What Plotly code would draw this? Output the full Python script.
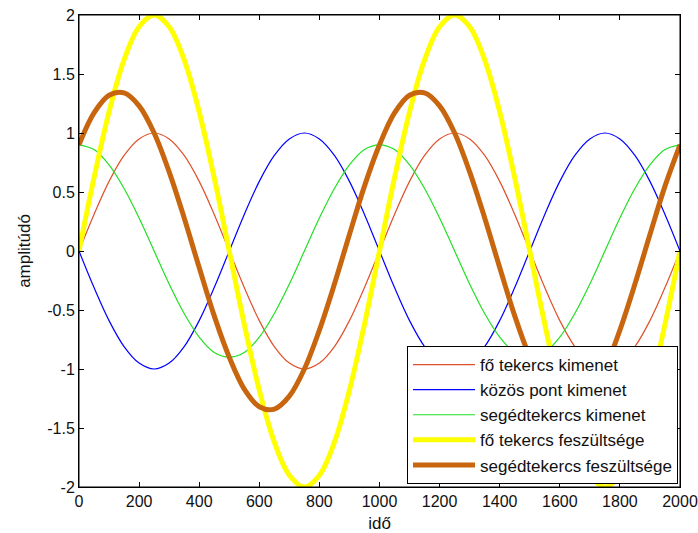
import plotly.graph_objects as go

ido = list(range(0, 2001, 50))

fo_kimenet = [0, 0.31, 0.59, 0.81, 0.95, 1.0, 0.95, 0.81, 0.59, 0.31, 0,
              -0.31, -0.59, -0.81, -0.95, -1.0, -0.95, -0.81, -0.59, -0.31, 0,
              0.31, 0.59, 0.81, 0.95, 1.0, 0.95, 0.81, 0.59, 0.31, 0,
              -0.31, -0.59, -0.81, -0.95, -1.0, -0.95, -0.81, -0.59, -0.31, 0]
kozos_kimenet = [0, -0.31, -0.59, -0.81, -0.95, -1.0, -0.95, -0.81, -0.59, -0.31, 0,
                 0.31, 0.59, 0.81, 0.95, 1.0, 0.95, 0.81, 0.59, 0.31, 0,
                 -0.31, -0.59, -0.81, -0.95, -1.0, -0.95, -0.81, -0.59, -0.31, 0,
                 0.31, 0.59, 0.81, 0.95, 1.0, 0.95, 0.81, 0.59, 0.31, 0]
seged_kimenet = [0.9, 0.86, 0.73, 0.53, 0.28, 0, -0.28, -0.53, -0.73, -0.86, -0.9,
                 -0.86, -0.73, -0.53, -0.28, 0, 0.28, 0.53, 0.73, 0.86, 0.9,
                 0.86, 0.73, 0.53, 0.28, 0, -0.28, -0.53, -0.73, -0.86, -0.9,
                 -0.86, -0.73, -0.53, -0.28, 0, 0.28, 0.53, 0.73, 0.86, 0.9]
fo_feszultseg = [0, 0.62, 1.18, 1.62, 1.9, 2.0, 1.9, 1.62, 1.18, 0.62, 0,
                 -0.62, -1.18, -1.62, -1.9, -2.0, -1.9, -1.62, -1.18, -0.62, 0,
                 0.62, 1.18, 1.62, 1.9, 2.0, 1.9, 1.62, 1.18, 0.62, 0,
                 -0.62, -1.18, -1.62, -1.9, -2.0, -1.9, -1.62, -1.18, -0.62, 0]
seged_feszultseg = [0.9, 1.17, 1.32, 1.34, 1.23, 1.0, 0.67, 0.28, -0.14, -0.55, -0.9,
                    -1.17, -1.32, -1.34, -1.23, -1.0, -0.67, -0.28, 0.14, 0.55, 0.9,
                    1.17, 1.32, 1.34, 1.23, 1.0, 0.67, 0.28, -0.14, -0.55, -0.9,
                    -1.17, -1.32, -1.34, -1.23, -1.0, -0.67, -0.28, 0.14, 0.55, 0.9]

x_ticks = list(range(0, 2001, 200))
y_ticks = [-2, -1.5, -1, -0.5, 0, 0.5, 1, 1.5, 2]
y_labels = ["-2", "-1.5", "-1", "-0.5", "0", "0.5", "1", "1.5", "2"]

series = [
    ("fő tekercs kimenet", fo_kimenet, "#e0502a", 1.2),
    ("közös pont kimenet", kozos_kimenet, "#0000ff", 1.2),
    ("segédtekercs kimenet", seged_kimenet, "#22e022", 1.2),
    ("fő tekercs feszültsége", fo_feszultseg, "#ffff00", 5),
    ("segédtekercs feszültsége", seged_feszultseg, "#c8660f", 5),
]

FONT = "Liberation Sans, Arial"

fig = go.Figure()
for name, ys, color, w in series:
    fig.add_trace(go.Scatter(x=ido, y=ys, name=name, mode="lines",
                             line=dict(color=color, width=w, shape="spline")))

axis_common = dict(showgrid=False, zeroline=False, showline=True, linecolor="#000000",
                   linewidth=1, mirror="ticks", ticks="inside", ticklen=5,
                   tickcolor="#000000", ticklabeloverflow="allow", automargin=False,
                   tickfont=dict(family=FONT, size=16, color="#111111"))

fig.update_xaxes(range=[0, 2000], tickvals=x_ticks, ticktext=[str(t) for t in x_ticks],
                 title=dict(text="idő", font=dict(family=FONT, size=17, color="#111111"), standoff=12),
                 **axis_common)
fig.update_yaxes(range=[-2, 2], tickvals=y_ticks, ticktext=y_labels,
                 title=dict(text="amplitúdó", font=dict(family=FONT, size=17, color="#111111"), standoff=12),
                 **axis_common)

fig.add_shape(type="rect", xref="paper", yref="paper", x0=0, y0=0, x1=1, y1=1,
              line=dict(color="#000000", width=1), fillcolor="rgba(0,0,0,0)", layer="above")

fig.update_layout(
    width=698, height=533,
    margin=dict(l=79, r=18, t=15, b=46, autoexpand=False),
    paper_bgcolor="white", plot_bgcolor="white",
    font=dict(family=FONT, color="#111111"),
    legend=dict(x=0.9967, y=0.0064, xanchor="right", yanchor="bottom",
                bgcolor="white", bordercolor="#000000", borderwidth=1,
                font=dict(family=FONT, size=17, color="#111111"),
                tracegroupgap=0, itemwidth=62),
    showlegend=True,
)

fig.write_html("out.html", config={"displayModeBar": False},
               post_script="document.body.style.margin='0';document.body.style.overflow='hidden';")
